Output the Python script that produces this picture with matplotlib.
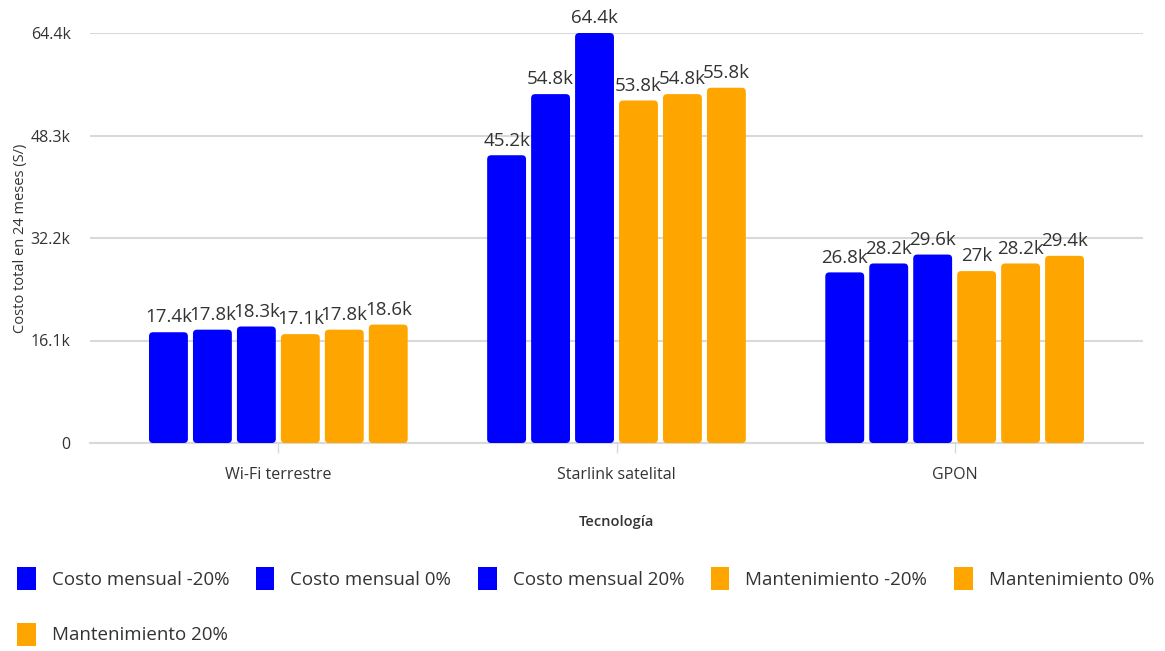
import matplotlib as mpl
mpl.use('Agg')

import numpy as np
import matplotlib.pyplot as plt
from matplotlib.patches import FancyBboxPatch, Patch

plt.rcParams['font.family'] = ['Open Sans', 'DejaVu Sans']

categories = ['Wi-Fi terrestre', 'Starlink satelital', 'GPON']
series = ['Costo mensual -20%', 'Costo mensual 0%', 'Costo mensual 20%',
          'Mantenimiento -20%', 'Mantenimiento 0%', 'Mantenimiento 20%']
colors = ['#0000ff', '#0000ff', '#0000ff', '#ffa500', '#ffa500', '#ffa500']

# values in soles, one list per series (Wi-Fi, Starlink, GPON)
costo_m20 = [17400, 45200, 26800]
costo_0 = [17800, 54800, 28200]
costo_p20 = [18300, 64400, 29600]
mant_m20 = [17100, 53800, 27000]
mant_0 = [17800, 54800, 28200]
mant_p20 = [18600, 55800, 29400]
values = [costo_m20, costo_0, costo_p20, mant_m20, mant_0, mant_p20]

yticks = [0, 16100, 32200, 48300, 64400]
ytick_labels = ['0', '16.1k', '32.2k', '48.3k', '64.4k']


def fmt_k(v):
    s = '%.1f' % (v / 1000.0)
    if s.endswith('.0'):
        s = s[:-2]
    return s + 'k'


fig = plt.figure(figsize=(11.65, 6.51), dpi=100)
ax = fig.add_axes([90 / 1165, 1 - 443 / 651, 1053 / 1165, 410 / 651])

x = np.arange(len(categories))
pitch = 0.130
width = 0.115
ymax = 64400
ax.set_xlim(-0.557, 2.557)
ax.set_ylim(0, ymax)

# aspect between y units and x units per pixel, for round corners
asp = (ymax / 410.0) / (3.114 / 1053.0)

for i, vals in enumerate(values):
    offs = (i - 2.5) * pitch
    for j, v in enumerate(vals):
        xl = x[j] + offs - width / 2
        p = FancyBboxPatch((xl, 0), width, v,
                           boxstyle='round,pad=0,rounding_size=0.012',
                           mutation_aspect=asp, facecolor=colors[i],
                           edgecolor='none', zorder=3)
        ax.add_patch(p)
        ax.text(x[j] + offs, v + 900, fmt_k(v), ha='center', va='bottom',
                fontsize=13.5, color='#333333', fontweight='medium',
                clip_on=False, zorder=4)

ax.set_yticks(yticks)
ax.set_yticklabels(ytick_labels)
ax.yaxis.grid(True, color='#d9d9d9', linewidth=1.5, zorder=0)
ax.set_axisbelow(True)
for s in ['top', 'right', 'left']:
    ax.spines[s].set_visible(False)
ax.spines['bottom'].set_color('#d9d9d9')
ax.spines['bottom'].set_linewidth(1.5)
ax.tick_params(axis='y', length=0, pad=14, labelsize=11.5, labelcolor='#333333')
ax.set_xticks(x)
ax.set_xticklabels(categories)
ax.tick_params(axis='x', length=7, width=1, color='#d9d9d9', pad=10,
               labelsize=11.5, labelcolor='#333333')

ax.set_ylabel('Costo total en 24 meses (S/)', fontsize=10.5, color='#333333',
              labelpad=2, fontweight='medium')
ax.set_xlabel('Tecnología', fontsize=10.5, color='#333333', labelpad=23,
              fontweight='semibold')

handles = [Patch(facecolor=c, edgecolor='none') for c in colors]
order = [0, 5, 1, 2, 3, 4]
leg = fig.legend([handles[k] for k in order], [series[k] for k in order],
                 loc='upper left', bbox_to_anchor=(0.0, 0.155), ncol=5,
                 frameon=False, fontsize=13.5, handlelength=1.0, handleheight=1.5,
                 handletextpad=0.85, columnspacing=1.42, labelspacing=1.75)
for t in leg.get_texts():
    t.set_color('#333333')

fig.savefig('out.png', dpi=100)
